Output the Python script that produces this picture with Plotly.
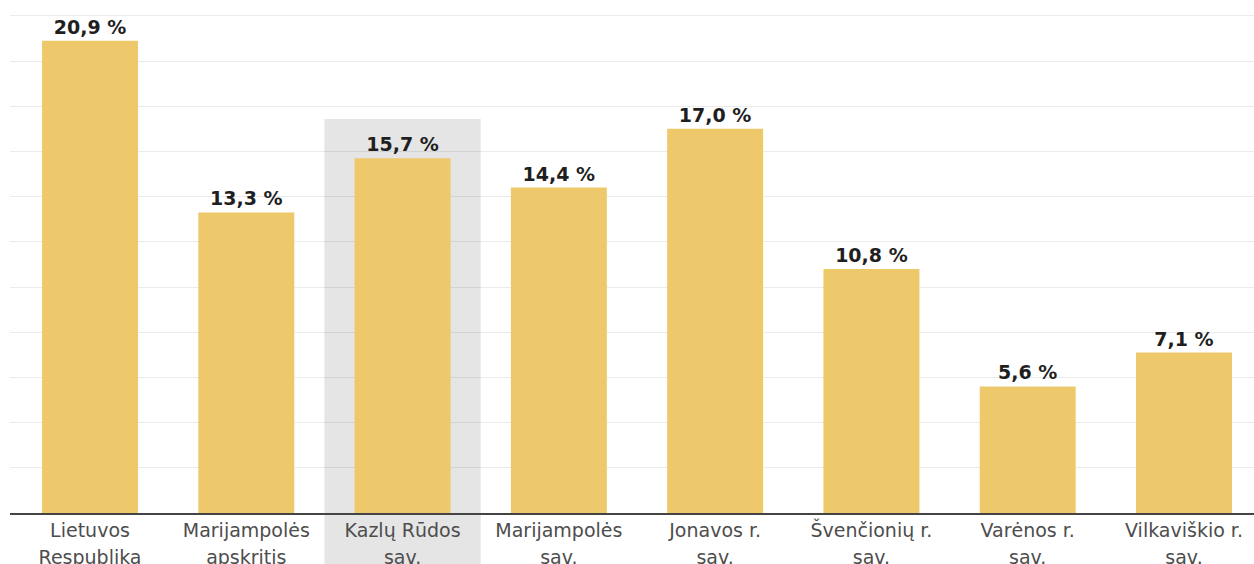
import plotly.graph_objects as go

categories = [
    "Lietuvos<br>Respublika",
    "Marijampolės<br>apskritis",
    "Kazlų Rūdos<br>sav.",
    "Marijampolės<br>sav.",
    "Jonavos r.<br>sav.",
    "Švenčionių r.<br>sav.",
    "Varėnos r.<br>sav.",
    "Vilkaviškio r.<br>sav.",
]
values = [20.9, 13.3, 15.7, 14.4, 17.0, 10.8, 5.6, 7.1]
highlight_index = 2

labels = [f"{v:.1f}".replace(".", ",") + " %" for v in values]
positions = list(range(len(categories)))
tick_text = [
    "<br>".join(f"<span style='font-size:19px'>{part}</span>" for part in c.split("<br>"))
    for c in categories
]

fig = go.Figure()
fig.add_trace(go.Bar(
    x=positions,
    y=values,
    width=0.614,
    marker=dict(color="#EEC96B", line=dict(width=0)),
    text=labels,
    textposition="outside",
    textfont=dict(family="DejaVu Sans", size=19, color="#1f1f1f", weight="bold"),
    cliponaxis=False,
    hoverinfo="skip",
))

fig.add_shape(
    type="rect", xref="x", yref="paper",
    x0=highlight_index - 0.5, x1=highlight_index + 0.5,
    y0=-0.12, y1=0.768,
    fillcolor="#E5E5E5", line=dict(width=0), layer="below",
)

fig.update_layout(
    width=1254, height=564,
    margin=dict(l=10, r=0, t=0, b=51),
    paper_bgcolor="white", plot_bgcolor="white",
    showlegend=False,
    xaxis=dict(
        range=[-0.512, 7.448],
        tickvals=positions,
        ticktext=tick_text,
        tickfont=dict(family="DejaVu Sans", size=21, color="#4d4d4d"),
        ticklabelstandoff=-3,
        showgrid=False,
        showline=True, linecolor="#444444", linewidth=1.5,
        ticks="",
        zeroline=False,
        automargin=False,
    ),
    yaxis=dict(
        range=[0, 22.7],
        dtick=2,
        showticklabels=False,
        showgrid=True, gridcolor="rgba(0,0,0,0.08)", gridwidth=1,
        zeroline=False,
        showline=False,
        automargin=False,
    ),
)

fig.write_html(
    "out.html",
    config={"displayModeBar": False},
    post_script="document.body.style.margin='0';document.body.style.overflow='hidden';",
)
